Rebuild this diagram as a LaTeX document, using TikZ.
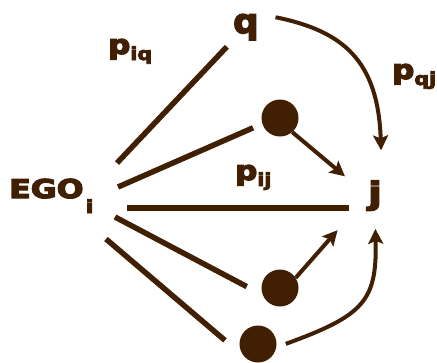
\documentclass[tikz,border=0pt]{standalone}
\usepackage{fontspec}
\setmainfont{DejaVu Sans}[BoldFeatures={FakeBold=4.5}]
\usetikzlibrary{arrows.meta}
\definecolor{ink}{RGB}{64,31,3}
\newcommand\wider[2][1.3]{\scalebox{#1}[1]{#2}}

\begin{document}
\begin{tikzpicture}[x=1bp, y=-1bp, >={Stealth[length=15bp, width=15bp, inset=3bp]},
  txt/.style={inner sep=0pt, text=ink, font=\bfseries},
  bead/.style={circle, fill=ink, inner sep=0pt, minimum size=37bp},
  fan/.style={draw=ink, line width=5.5bp},
  link/.style={draw=ink, line width=4bp, ->}]
  \useasboundingbox (0,0) rectangle (437,362);

  \node[txt, anchor=base west] (ego) at (9,198) {\fontsize{26}{26}\selectfont\wider[1.22]{EGO}\hspace{2bp}\raisebox{-15bp}{\fontsize{18}{18}\selectfont\wider{i}}};
  \node[txt, anchor=base west] (q) at (233,33) {\fontsize{34}{34}\selectfont\wider[1.05]{q}};
  \node[txt, anchor=base] (j) at (375,204) {\fontsize{31}{31}\selectfont\wider{j}};

  \node[bead] (b1) at (280,118) {};
  \node[bead] (b2) at (280,288) {};
  \node[bead] (b3) at (258,344) {};

  \node[txt, anchor=base west] (piq) at (108,54) {\fontsize{27}{27}\selectfont\wider[1.15]{p}\raisebox{-6bp}{\fontsize{18}{18}\selectfont\wider[1.15]{iq}}};
  \node[txt, anchor=base west] (pij) at (235,180) {\fontsize{27}{27}\selectfont\wider[1.15]{p}\raisebox{-6bp}{\fontsize{18}{18}\selectfont\wider[1.15]{ij}}};
  \node[txt, anchor=base west] (pqj) at (392,79) {\fontsize{27}{27}\selectfont\wider[1.15]{p}\raisebox{-6bp}{\fontsize{18}{18}\selectfont\wider[1.15]{qj}}};

  \coordinate (f1) at (117,163);
  \coordinate (f2) at (118,187);
  \coordinate (f3) at (127,208);
  \coordinate (f4) at (115,217);
  \coordinate (f5) at (106,239);

  \draw[fan, shorten >=9bp] (f1) -- (q.south west);
  \draw[fan, shorten >=10bp] (f2) -- (b1.198);
  \draw[fan, shorten >=19bp] (f3) -- (f3 -| j.west);
  \draw[fan, shorten >=18bp] (f4) -- (b2.202);
  \draw[fan, shorten >=26bp] (f5) -- (b3.225);

  \draw[link, shorten >=30bp] (b1.-49) -- (j.west);
  \draw[link, shorten >=46bp] (b2.33) -- (j.west);
  \draw[link, shorten <=17bp, shorten >=30bp] (q.north east) .. controls +(84,17) and +(-4,-120) .. (j.north east);
  \draw[link, shorten <=10bp, shorten >=18bp] (b3.-10) .. controls +(88,-32) and +(2,90) .. (j.south);
\end{tikzpicture}
\end{document}
